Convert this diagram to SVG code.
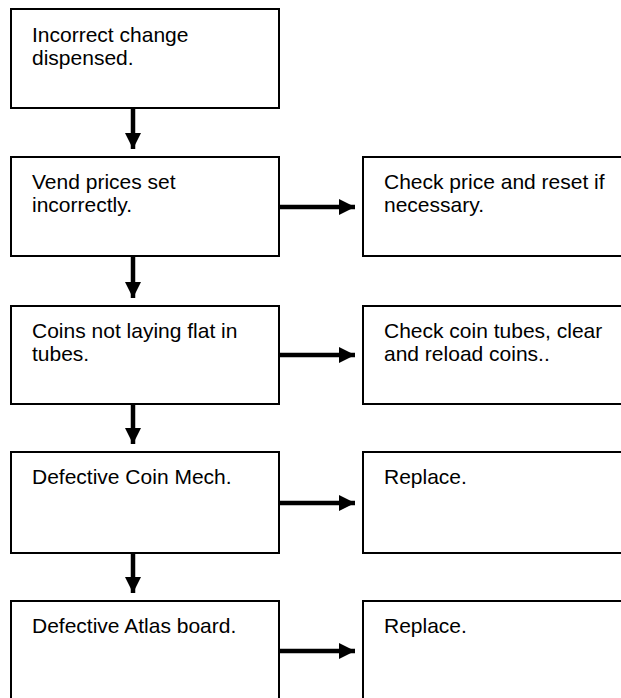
<svg xmlns="http://www.w3.org/2000/svg" width="621" height="698" viewBox="0 0 621 698">
<style>
.box{fill:#fff;stroke:#000;stroke-width:2}
.t{font-family:"Liberation Sans",Arial,sans-serif;font-size:21px;fill:#000}
.arr{stroke:#000;stroke-width:4.5;fill:none}
</style>
<defs>
<marker id="ah" markerUnits="userSpaceOnUse" markerWidth="16" markerHeight="16" refX="16" refY="8" orient="auto" viewBox="0 0 16 16">
<path d="M0,0 L16,8 L0,16 Z" fill="#000"/>
</marker>
</defs>
<rect width="621" height="698" fill="#fff"/>
<g id="connectors">
<line class="arr" x1="133" y1="108" x2="133" y2="149" marker-end="url(#ah)"/>
<line class="arr" x1="133" y1="256" x2="133" y2="298" marker-end="url(#ah)"/>
<line class="arr" x1="133" y1="404" x2="133" y2="444" marker-end="url(#ah)"/>
<line class="arr" x1="133" y1="553" x2="133" y2="593" marker-end="url(#ah)"/>
<line class="arr" x1="279" y1="207" x2="355" y2="207" marker-end="url(#ah)"/>
<line class="arr" x1="279" y1="355" x2="355" y2="355" marker-end="url(#ah)"/>
<line class="arr" x1="279" y1="503" x2="355" y2="503" marker-end="url(#ah)"/>
<line class="arr" x1="279" y1="651" x2="355" y2="651" marker-end="url(#ah)"/>
</g>
<g id="n1"><rect class="box" x="11" y="9" width="268" height="99"/>
<text class="t" x="32" y="41.5">Incorrect change</text><text class="t" x="32" y="64.5">dispensed.</text></g>
<g id="n2"><rect class="box" x="11" y="157" width="268" height="99"/>
<text class="t" x="32" y="189">Vend prices set</text><text class="t" x="32" y="212">incorrectly.</text></g>
<g id="n3"><rect class="box" x="11" y="306" width="268" height="98"/>
<text class="t" x="32" y="337.5">Coins not laying flat in</text><text class="t" x="32" y="360.5">tubes.</text></g>
<g id="n4"><rect class="box" x="11" y="452" width="268" height="101"/>
<text class="t" x="32" y="483.5">Defective Coin Mech.</text></g>
<g id="n5"><rect class="box" x="11" y="601" width="268" height="102"/>
<text class="t" x="32" y="632.5">Defective Atlas board.</text></g>
<g id="r2"><rect class="box" x="363" y="157" width="270" height="99"/>
<text class="t" x="384" y="189">Check price and reset if</text><text class="t" x="384" y="212">necessary.</text></g>
<g id="r3"><rect class="box" x="363" y="306" width="270" height="98"/>
<text class="t" x="384" y="337.5">Check coin tubes, clear</text><text class="t" x="384" y="360.5">and reload coins..</text></g>
<g id="r4"><rect class="box" x="363" y="452" width="270" height="101"/>
<text class="t" x="384" y="483.5">Replace.</text></g>
<g id="r5"><rect class="box" x="363" y="601" width="270" height="102"/>
<text class="t" x="384" y="632.5">Replace.</text></g>
</svg>
